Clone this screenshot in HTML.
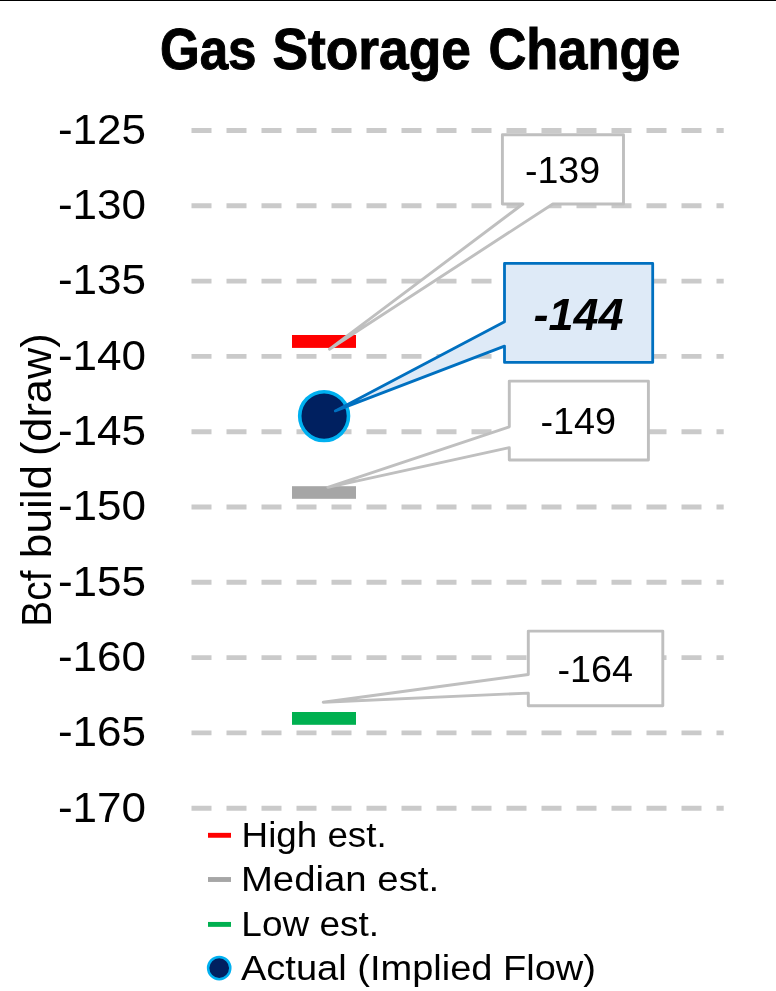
<!DOCTYPE html>
<html lang="en"><head><meta charset="utf-8"><title>Gas Storage Change</title>
<style>html,body{margin:0;padding:0;background:#fff;}body{width:776px;height:991px;overflow:hidden;}svg{display:block;will-change:transform;}text{font-family:"Liberation Sans",sans-serif;fill:#000;}</style></head><body>
<svg width="776" height="991" viewBox="0 0 776 991">
<rect x="0" y="0" width="776" height="991" fill="#ffffff"/>
<rect id="topline" x="0" y="0" width="776" height="1" fill="#000"/>
<g id="grid" stroke="#CACACA" stroke-width="4.9" stroke-dasharray="20 15" fill="none">
<path d="M191.5 130.50H723.7"/>
<path d="M191.5 205.80H723.7"/>
<path d="M191.5 281.10H723.7"/>
<path d="M191.5 356.40H723.7"/>
<path d="M191.5 431.70H723.7"/>
<path d="M191.5 507.00H723.7"/>
<path d="M191.5 582.30H723.7"/>
<path d="M191.5 657.60H723.7"/>
<path d="M191.5 732.90H723.7"/>
<path d="M191.5 808.20H723.7"/>
</g>
<rect id="bar_hi" x="292" y="335" width="64" height="12.9" fill="#FF0000"/>
<rect id="bar_med" x="292" y="486.2" width="64" height="12.6" fill="#A6A6A6"/>
<rect id="bar_lo" x="292" y="712" width="64" height="12.8" fill="#00B050"/>
<circle id="dot" cx="324.1" cy="416.1" r="24.4" fill="#002060" stroke="#00B0F0" stroke-width="3.6"/>
<g id="callouts" stroke-linejoin="round">
<path id="co139" d="M502.4 134.7H623.5V204H552.8L329.5 349.2L522.9 204H502.4Z" fill="#fff" stroke="#BFBFBF" stroke-width="2.9"/>
<path id="co149" d="M509.3 381.1H648.4V460H509.3V447.7L327.8 487.3L509.3 426.8Z" fill="#fff" stroke="#BFBFBF" stroke-width="2.9"/>
<path id="co164" d="M528.3 631.1H662.8V705.8H528.3V693.1L323.2 702.3L528.3 674.5Z" fill="#fff" stroke="#BFBFBF" stroke-width="2.9"/>
<path id="co144" d="M504.5 263.4H652.7V362.4H504.5V346.1L335.3 410.9L504.5 321.7Z" fill="#DEEAF7" stroke="#0070C0" stroke-width="2.8"/>
</g>
<rect x="208" y="832.85" width="23" height="4.9" fill="#FF0000"/>
<rect x="208" y="877.05" width="23" height="4.9" fill="#A6A6A6"/>
<rect x="208" y="921.95" width="23" height="4.9" fill="#00B050"/>
<circle cx="219.2" cy="968.1" r="11.1" fill="#002060" stroke="#00B0F0" stroke-width="2.5"/>
<text id="t_gas" stroke="#000" stroke-width="1" x="159.95" y="69.20" font-size="57" font-weight="bold" font-style="normal" textLength="96.59" lengthAdjust="spacingAndGlyphs">Gas</text>
<text id="t_storage" stroke="#000" stroke-width="1" x="272.49" y="69.20" font-size="57" font-weight="bold" font-style="normal" textLength="198.52" lengthAdjust="spacingAndGlyphs">Storage</text>
<text id="t_change" stroke="#000" stroke-width="1" x="488.48" y="69.20" font-size="57" font-weight="bold" font-style="normal" textLength="192.04" lengthAdjust="spacingAndGlyphs">Change</text>
<text id="yl0" x="57.91" y="144.00" font-size="43" font-weight="normal" font-style="normal" textLength="88.16" lengthAdjust="spacingAndGlyphs">-125</text>
<text id="yl1" x="57.91" y="219.00" font-size="43" font-weight="normal" font-style="normal" textLength="88.16" lengthAdjust="spacingAndGlyphs">-130</text>
<text id="yl2" x="57.91" y="294.00" font-size="43" font-weight="normal" font-style="normal" textLength="88.16" lengthAdjust="spacingAndGlyphs">-135</text>
<text id="yl3" x="57.91" y="370.00" font-size="43" font-weight="normal" font-style="normal" textLength="88.16" lengthAdjust="spacingAndGlyphs">-140</text>
<text id="yl4" x="57.91" y="445.00" font-size="43" font-weight="normal" font-style="normal" textLength="88.16" lengthAdjust="spacingAndGlyphs">-145</text>
<text id="yl5" x="57.91" y="520.00" font-size="43" font-weight="normal" font-style="normal" textLength="88.16" lengthAdjust="spacingAndGlyphs">-150</text>
<text id="yl6" x="57.91" y="596.00" font-size="43" font-weight="normal" font-style="normal" textLength="88.16" lengthAdjust="spacingAndGlyphs">-155</text>
<text id="yl7" x="57.91" y="671.00" font-size="43" font-weight="normal" font-style="normal" textLength="88.16" lengthAdjust="spacingAndGlyphs">-160</text>
<text id="yl8" x="57.91" y="746.00" font-size="43" font-weight="normal" font-style="normal" textLength="88.16" lengthAdjust="spacingAndGlyphs">-165</text>
<text id="yl9" x="57.91" y="822.00" font-size="43" font-weight="normal" font-style="normal" textLength="88.16" lengthAdjust="spacingAndGlyphs">-170</text>
<text id="c139" x="524.95" y="183.40" font-size="36.5" font-weight="normal" font-style="normal" textLength="75.11" lengthAdjust="spacingAndGlyphs">-139</text>
<text id="c144" x="533.49" y="329.60" font-size="44" font-weight="bold" font-style="italic" textLength="90.03" lengthAdjust="spacingAndGlyphs">-144</text>
<text id="c149" x="540.44" y="434.30" font-size="36.5" font-weight="normal" font-style="normal" textLength="75.62" lengthAdjust="spacingAndGlyphs">-149</text>
<text id="c164" x="557.45" y="682.20" font-size="36.5" font-weight="normal" font-style="normal" textLength="75.59" lengthAdjust="spacingAndGlyphs">-164</text>
<text id="l1" x="241.64" y="846.50" font-size="35.5" font-weight="normal" font-style="normal" textLength="144.97" lengthAdjust="spacingAndGlyphs">High est.</text>
<text id="l2" x="240.90" y="891.30" font-size="35.5" font-weight="normal" font-style="normal" textLength="198.23" lengthAdjust="spacingAndGlyphs">Median est.</text>
<text id="l3" x="241.37" y="935.60" font-size="35.5" font-weight="normal" font-style="normal" textLength="137.77" lengthAdjust="spacingAndGlyphs">Low est.</text>
<text id="l4" x="241.00" y="980.20" font-size="35.5" font-weight="normal" font-style="normal" textLength="355.01" lengthAdjust="spacingAndGlyphs">Actual (Implied Flow)</text>
<text id="a_bcf" transform="translate(51.20 626.66) rotate(-90)" x="0" y="0" font-size="43" font-weight="normal" font-style="normal" textLength="56.15" lengthAdjust="spacingAndGlyphs">Bcf</text>
<text id="a_build" transform="translate(51.20 558.15) rotate(-90)" x="0" y="0" font-size="43" font-weight="normal" font-style="normal" textLength="93.31" lengthAdjust="spacingAndGlyphs">build</text>
<text id="a_draw" transform="translate(51.20 456.11) rotate(-90)" x="0" y="0" font-size="43" font-weight="normal" font-style="normal" textLength="122.72" lengthAdjust="spacingAndGlyphs">(draw)</text>
</svg></body></html>
